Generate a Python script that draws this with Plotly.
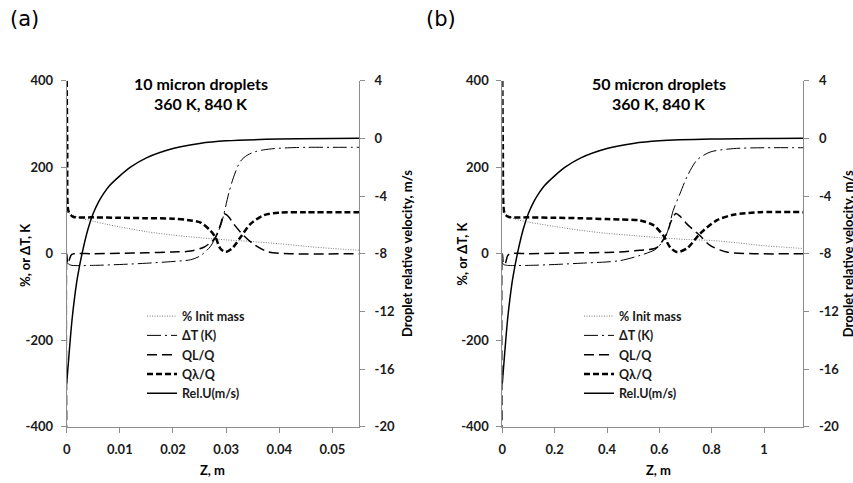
import plotly.graph_objects as go

# ---------------- Panel (a): 10 micron droplets (Z in m) ----------------
a_mass_x = [0, 0.0005, 0.001, 0.0025, 0.005, 0.0075, 0.01, 0.015, 0.02, 0.025, 0.03, 0.035, 0.04, 0.045, 0.05, 0.055]
a_mass_y = [97, 93, 90, 83, 75, 68, 62, 51, 43, 37, 32, 28, 23, 17, 12, 8]

a_dT_x = [0, 0.0005, 0.001, 0.005, 0.01, 0.015, 0.02, 0.0233, 0.025, 0.027, 0.028, 0.029, 0.0296, 0.0305,
          0.0314, 0.0327, 0.034, 0.0355, 0.037, 0.039, 0.042, 0.0453, 0.05, 0.055]
a_dT_y = [-20, -25, -27, -27, -25, -22, -18, -14, -6, 16, 38, 65, 93, 140, 177, 214, 228, 236, 240, 243, 245, 246, 246, 246]

a_QL_x = [0, 0.00002, 0.0002, 0.0009, 0.0015, 0.005, 0.01, 0.015, 0.02, 0.0233, 0.0258, 0.027, 0.028, 0.029,
          0.0296, 0.0305, 0.0314, 0.0333, 0.0355, 0.038, 0.042, 0.055]
a_QL_y = [-420, 0, -23, -2, 0, 0, 1, 2, 4, 6, 15, 25, 38, 70, 92, 85, 69, 42, 19, 4, 0, 0]

a_Qlam_x = [0, 0.0001, 0.0003, 0.0007, 0.0013, 0.005, 0.01, 0.015, 0.02, 0.0233, 0.0252, 0.027, 0.028, 0.0289,
            0.0299, 0.0311, 0.0327, 0.0346, 0.0371, 0.0402, 0.045, 0.055]
a_Qlam_y = [400, 250, 100, 90, 85, 84, 83, 82, 81, 77, 72, 54, 38, 12, 4, 12, 38, 69, 89, 95, 96, 96]

a_relU_x = [0, 0.0005, 0.001, 0.0015, 0.002, 0.003, 0.004, 0.005, 0.006, 0.007, 0.008, 0.01, 0.012, 0.015,
            0.02, 0.025, 0.03, 0.04, 0.055]
a_relU_y = [-17, -14.7, -12.6, -11, -9.7, -7.8, -6.3, -5.2, -4.4, -3.8, -3.3, -2.6, -2.0, -1.35, -0.7, -0.35,
            -0.17, -0.05, 0]

# ---------------- Panel (b): 50 micron droplets (Z in m) ----------------
b_mass_x = [0, 0.01, 0.02, 0.05, 0.1, 0.2, 0.3, 0.4, 0.5, 0.6, 0.7, 0.8, 0.9, 1.0, 1.1, 1.15]
b_mass_y = [97, 92, 88, 80, 73, 63, 54, 47, 42, 37, 33, 30.5, 25, 18.5, 14, 12]

b_dT_x = [0, 0.005, 0.02, 0.1, 0.2, 0.3, 0.4, 0.45, 0.526, 0.59, 0.628, 0.653, 0.679, 0.705, 0.743, 0.794,
          0.883, 1.0, 1.15]
b_dT_y = [-20, -25, -27, -27, -25, -22, -19, -16, -4, 12, 46, 100, 139, 177, 216, 235, 243, 245, 245]

b_QL_x = [0, 0.0005, 0.005, 0.012, 0.02, 0.03, 0.1, 0.2, 0.3, 0.4, 0.45, 0.526, 0.59, 0.628, 0.645, 0.663,
          0.68, 0.705, 0.755, 0.794, 0.857, 0.96, 1.15]
b_QL_y = [-420, 0, -25, -22, -5, 0, 0, 1, 2, 3, 4, 8, 14, 46, 75, 93, 86, 69, 42, 19, 4, 0, 0]

b_Qlam_x = [0, 0.002, 0.006, 0.012, 0.025, 0.1, 0.2, 0.3, 0.4, 0.45, 0.526, 0.577, 0.615, 0.641, 0.666,
            0.705, 0.755, 0.819, 0.883, 0.985, 1.15]
b_Qlam_y = [400, 250, 100, 90, 85, 84, 83, 82, 80, 79, 77, 66, 42, 15, 4, 12, 46, 77, 90, 96, 96]

b_relU_x = [0, 0.01, 0.02, 0.03, 0.04, 0.06, 0.08, 0.1, 0.12, 0.14, 0.16, 0.2, 0.24, 0.3, 0.4, 0.5, 0.6, 0.8,
            1.15]
b_relU_y = [-17, -14.7, -12.6, -11, -9.7, -7.8, -6.3, -5.2, -4.4, -3.8, -3.3, -2.6, -2.0, -1.35, -0.7, -0.35,
            -0.17, -0.05, 0]

# ---------------- Ticks and labels ----------------
series_names = ["% Init mass", "\u0394T (K)", "QL/Q", "Q\u03bb/Q", "Rel.U(m/s)"]
y_left_vals = [-400, -200, 0, 200, 400]
y_left_text = ["-400", "-200", "0", "200", "400"]
y_right_vals = [-20, -16, -12, -8, -4, 0, 4]
y_right_text = ["-20", "-16", "-12", "-8", "-4", "0", "4"]
a_x_vals = [0, 0.01, 0.02, 0.03, 0.04, 0.05]
a_x_text = ["0", "0.01", "0.02", "0.03", "0.04", "0.05"]
b_x_vals = [0, 0.2, 0.4, 0.6, 0.8, 1.0]
b_x_text = ["0", "0.2", "0.4", "0.6", "0.8", "1"]

FONT = "Lato"
W, H = 853, 483

styles = [
    dict(color="#7a7a7a", width=1, dash="1px,1.5px"),
    dict(color="black", width=1, dash="14px,4px,2px,4px"),
    dict(color="black", width=1.5, dash="10px,5px"),
    dict(color="black", width=2.5, dash="6px,3px"),
    dict(color="black", width=1.5),
]

fig = go.Figure()

def add_panel(data, xa, ya, ya2, legend):
    for i, ((xs, ys), name) in enumerate(zip(data, series_names)):
        fig.add_trace(go.Scatter(
            x=xs, y=ys, mode="lines", name=name,
            line=dict(shape="spline", smoothing=0.8, **styles[i]),
            xaxis=xa, yaxis=(ya2 if i == 4 else ya), legend=legend,
            hoverinfo="skip",
        ))

add_panel([(a_mass_x, a_mass_y), (a_dT_x, a_dT_y), (a_QL_x, a_QL_y), (a_Qlam_x, a_Qlam_y),
           (a_relU_x, a_relU_y)], "x", "y", "y2", "legend")
add_panel([(b_mass_x, b_mass_y), (b_dT_x, b_dT_y), (b_QL_x, b_QL_y), (b_Qlam_x, b_Qlam_y),
           (b_relU_x, b_relU_y)], "x2", "y3", "y4", "legend2")

tickfont = dict(family=FONT, size=13, color="#1a1a1a", weight="bold")
axcommon = dict(showgrid=False, zeroline=False, showline=True, linecolor="#8c8c8c", linewidth=1,
                ticks="outside", ticklen=5, tickcolor="#8c8c8c", tickfont=tickfont, automargin=False)

ydom = [1 - 426.7 / H, 1 - 80.7 / H]
fig.update_layout(
    width=W, height=H, margin=dict(l=0, r=0, t=0, b=0, autoexpand=False),
    paper_bgcolor="white", plot_bgcolor="white", showlegend=True,
    xaxis=dict(domain=[66.7 / W, 359 / W], range=[0, 0.055], anchor="y", tickvals=a_x_vals,
               ticktext=a_x_text, ticklabelstandoff=6, **axcommon),
    yaxis=dict(domain=ydom, range=[-400, 400], anchor="x", tickvals=y_left_vals, ticktext=y_left_text,
               ticklabelstandoff=5, **axcommon),
    yaxis2=dict(overlaying="y", side="right", range=[-20, 4], anchor="x", tickvals=y_right_vals,
                ticktext=y_right_text, ticklabelstandoff=7, **axcommon),
    xaxis2=dict(domain=[502.3 / W, 803.3 / W], range=[0, 1.15], anchor="y3", tickvals=b_x_vals,
                ticktext=b_x_text, ticklabelstandoff=6, **axcommon),
    yaxis3=dict(domain=ydom, range=[-400, 400], anchor="x2", tickvals=y_left_vals, ticktext=y_left_text,
                ticklabelstandoff=5, **axcommon),
    yaxis4=dict(overlaying="y3", side="right", range=[-20, 4], anchor="x2", tickvals=y_right_vals,
                ticktext=y_right_text, ticklabelstandoff=7, **axcommon),
    legend=dict(x=142 / W, y=1 - 355 / H, xanchor="left", yanchor="middle", bgcolor="rgba(0,0,0,0)",
                font=dict(family=FONT, size=12.5, color="#1a1a1a", weight="bold"), itemwidth=30),
    legend2=dict(x=579 / W, y=1 - 355 / H, xanchor="left", yanchor="middle", bgcolor="rgba(0,0,0,0)",
                 font=dict(family=FONT, size=12.5, color="#1a1a1a", weight="bold"), itemwidth=30),
)

def ann(text, px, py, size=14, angle=0, bold=True, family=FONT):
    fig.add_annotation(text=text, x=px / W, y=1 - py / H, xref="paper", yref="paper",
                       xanchor="center", yanchor="middle", showarrow=False, textangle=angle,
                       font=dict(family=family, size=size, color="black",
                                 weight="bold" if bold else "normal"))

ann("10 micron droplets", 201, 83, size=16)
ann("360 K, 840 K", 201, 103.3, size=16)
ann("50 micron droplets", 659, 83, size=16)
ann("360 K, 840 K", 659, 103.3, size=16)
ann("%, or \u0394T, K", 25, 255, size=13, angle=-90)
ann("%, or \u0394T, K", 461.7, 254, size=13, angle=-90)
ann("Droplet relative velocity, m/s", 407, 254, size=13, angle=-90)
ann("Droplet relative velocity, m/s", 848.3, 254, size=13, angle=-90)
ann("Z, m", 212, 470, size=13)
ann("Z, m", 658, 470, size=13)
ann("(a)", 24, 19, size=21, bold=False, family="DejaVu Sans")
ann("(b)", 441, 19, size=21, bold=False, family="DejaVu Sans")

fig.write_html("out.html", config={"displayModeBar": False},
               post_script="document.body.style.margin='0';document.body.style.overflow='hidden';")
